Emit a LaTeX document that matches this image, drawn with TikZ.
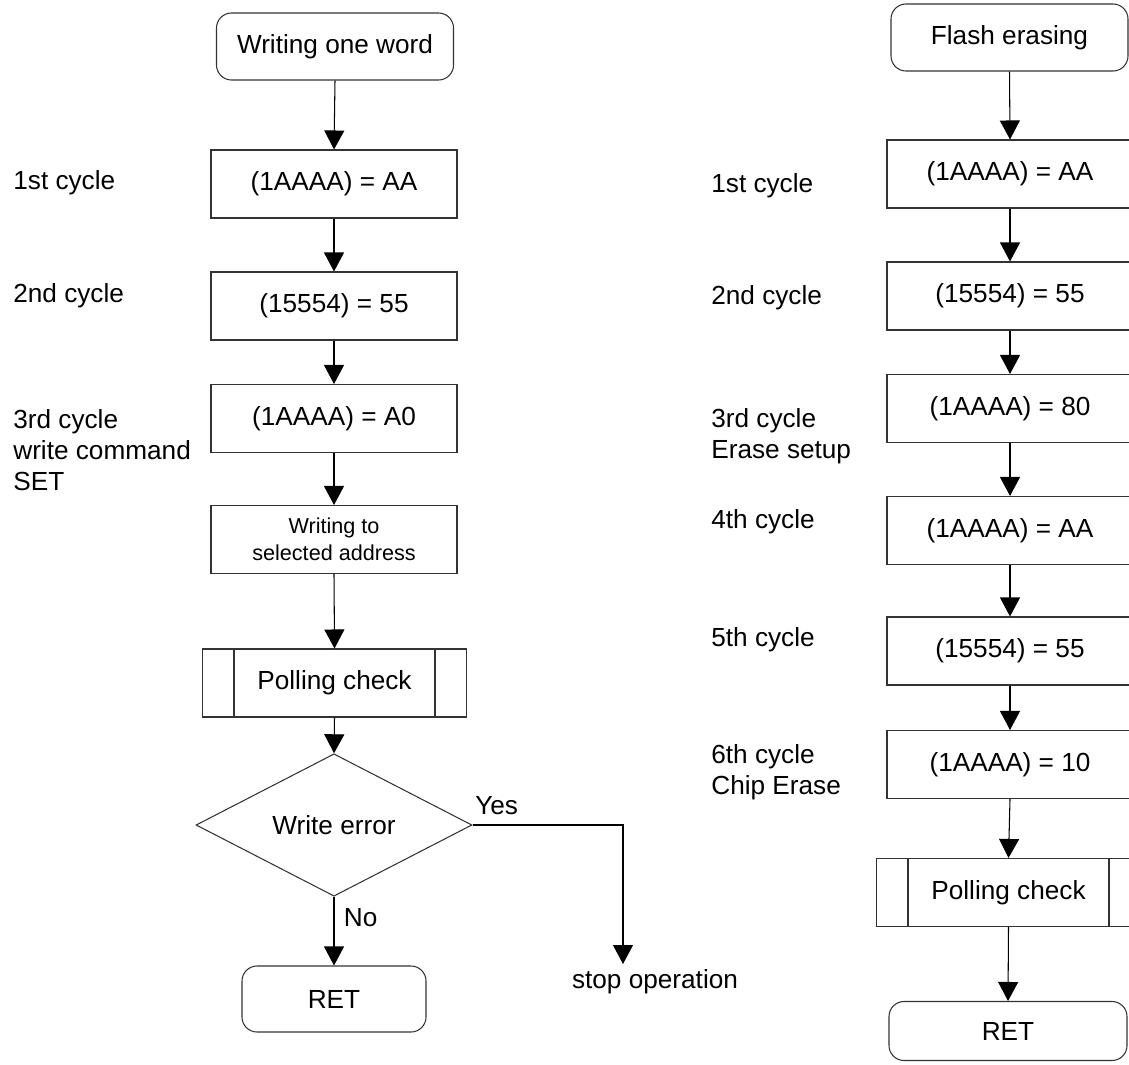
\documentclass[tikz,border=0pt]{standalone}
\usepackage{fontspec}
\setmainfont{Liberation Sans}
\usetikzlibrary{arrows.meta, shapes.geometric}

\tikzset{
    box/.style={shape=rectangle, draw=black!80, line width=0.6pt, minimum width=4.92cm, minimum height=1.36cm, inner sep=0pt},
    term/.style={box, rounded corners=0.3cm},
    pollbox/.style={box, minimum width=5.28cm, path picture={
        \draw[black!80, line width=0.6pt] ([xshift=0.63cm]path picture bounding box.north west) -- ([xshift=0.63cm]path picture bounding box.south west);
        \draw[black!80, line width=0.6pt] ([xshift=-0.63cm]path picture bounding box.north east) -- ([xshift=-0.63cm]path picture bounding box.south east);}},
    decide/.style={shape=diamond, draw=black!80, line width=0.6pt, minimum width=5.52cm, minimum height=2.52cm, inner sep=0pt},
    cyc/.style={anchor=west, align=left, inner sep=0pt},
    flow/.style={-{Triangle[length=0.38cm, width=0.4cm]}, line width=0.6pt, black}
}

\begin{document}
\begin{tikzpicture}[font=\fontsize{14.9}{17.5}\selectfont]
        \useasboundingbox (0, 0) rectangle (22.58, -21.28);
        % writing one word
        \node[name=wstart, term, minimum width=4.74cm, minimum height=1.34cm] at (6.70, -0.93) {Writing one word};
        \node[name=wc1, box] at (6.68, -3.68) {(1AAAA) = AA};
        \node[name=wc2, box] at (6.68, -6.12) {(15554) = 55};
        \node[name=wc3, box] at (6.68, -8.37) {(1AAAA) = A0};
        \node[name=wwr, box, align=center, font=\fontsize{12.3}{15.4}\selectfont] at (6.68, -10.79) {Writing to\\selected address};
        \node[name=wpoll, pollbox] at (6.69, -13.66) {Polling check};
        \node[name=werr, decide] at (6.68, -16.50) {Write error};
        \node[name=wret, term, minimum width=3.68cm, minimum height=1.32cm] at (6.68, -19.98) {RET};
        \coordinate (wstop) at (12.46, -19.28);
        \node[name=stoptxt] at (13.10, -19.64) {stop operation};
        \node[name=wl1, cyc] at (0.26, -3.66) {1st cycle};
        \node[name=wl2, cyc] at (0.26, -5.92) {2nd cycle};
        \node[name=wl3, cyc] at (0.26, -9.00) {3rd cycle\\write command\\SET};
        \draw[flow] (wstart.south) -- (wc1.north);
        \draw[flow] (wc1.south) -- (wc2.north);
        \draw[flow] (wc2.south) -- (wc3.north);
        \draw[flow] (wc3.south) -- (wwr.north);
        \draw[flow] (wwr.south) -- (wpoll.north);
        \draw[flow] (wpoll.south) -- (werr.north);
        \draw[flow] (werr.south) -- node[name=nolbl, pos=0.3, right=2pt] {No} (wret.north);
        \draw[flow] (werr.east) -| node[name=yeslbl, pos=0.08, above=2pt] {Yes} (wstop);
        % flash erasing
        \node[name=estart, term, minimum width=4.74cm, minimum height=1.34cm] at (20.19, -0.75) {Flash erasing};
        \node[name=ec1, box] at (20.20, -3.48) {(1AAAA) = AA};
        \node[name=ec2, box] at (20.20, -5.92) {(15554) = 55};
        \node[name=ec3, box] at (20.20, -8.17) {(1AAAA) = 80};
        \node[name=ec4, box] at (20.20, -10.61) {(1AAAA) = AA};
        \node[name=ec5, box] at (20.20, -13.02) {(15554) = 55};
        \node[name=ec6, box] at (20.20, -15.29) {(1AAAA) = 10};
        \node[name=epoll, pollbox] at (20.17, -17.85) {Polling check};
        \node[name=eret, term, minimum width=4.76cm, minimum height=1.18cm] at (20.16, -20.62) {RET};
        \node[name=el1, cyc] at (14.22, -3.72) {1st cycle};
        \node[name=el2, cyc] at (14.22, -5.96) {2nd cycle};
        \node[name=el3, cyc] at (14.22, -8.72) {3rd cycle\\Erase setup};
        \node[name=el4, cyc] at (14.22, -10.44) {4th cycle};
        \node[name=el5, cyc] at (14.22, -12.80) {5th cycle};
        \node[name=el6, cyc] at (14.22, -15.44) {6th cycle\\Chip Erase};
        \draw[flow] (estart.south) -- (ec1.north);
        \draw[flow] (ec1.south) -- (ec2.north);
        \draw[flow] (ec2.south) -- (ec3.north);
        \draw[flow] (ec3.south) -- (ec4.north);
        \draw[flow] (ec4.south) -- (ec5.north);
        \draw[flow] (ec5.south) -- (ec6.north);
        \draw[flow] (ec6.south) -- (epoll.north);
        \draw[flow] (epoll.south) -- (eret.north);
    \end{tikzpicture}
\end{document}
